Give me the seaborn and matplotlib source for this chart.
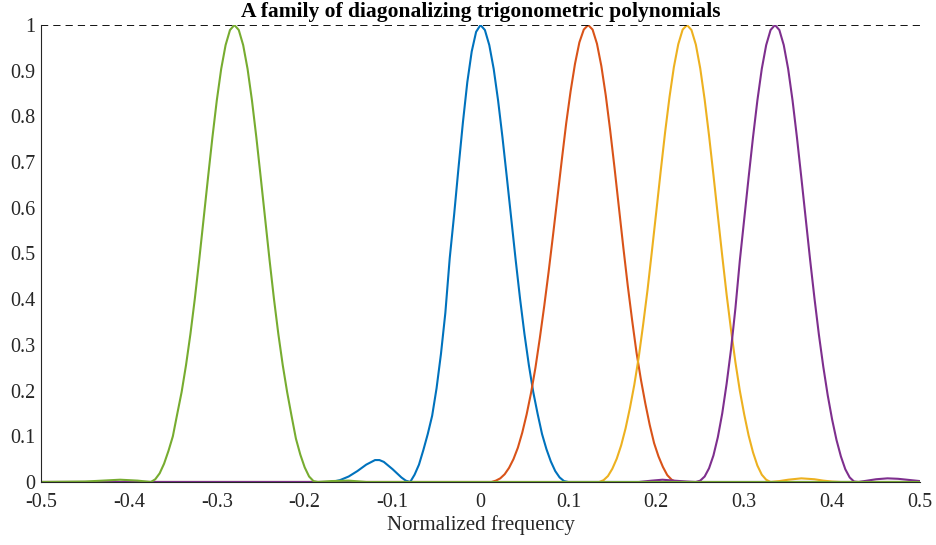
import matplotlib
matplotlib.use("Agg")
import matplotlib.pyplot as plt
import seaborn as sns
import pandas as pd

# ---- data ----
green_x = [-0.5, -0.45, -0.43, -0.41, -0.39, -0.375, -0.37, -0.365, -0.36, -0.355, -0.35, -0.345,
           -0.34, -0.335, -0.33, -0.325, -0.32, -0.315, -0.31, -0.305, -0.3, -0.295, -0.29, -0.285,
           -0.28, -0.275, -0.27, -0.265, -0.26, -0.255, -0.25, -0.245, -0.24, -0.235, -0.23, -0.225,
           -0.22, -0.215, -0.21, -0.205, -0.2, -0.195, -0.19, -0.185, -0.17, -0.15, -0.13, 0.5]
green_y = [0, 0.001, 0.003, 0.005, 0.003, 0.0, 0.006, 0.019, 0.040, 0.068, 0.100, 0.149,
           0.197, 0.256, 0.324, 0.401, 0.486, 0.576, 0.666, 0.754, 0.835, 0.904, 0.956, 0.989,
           1.0, 0.989, 0.956, 0.904, 0.835, 0.754, 0.666, 0.576, 0.486, 0.401, 0.324, 0.256,
           0.197, 0.145, 0.095, 0.060, 0.032, 0.012, 0.002, 0.0, 0.002, 0.003, 0.0, 0]

blue_x = [-0.5, -0.17, -0.16, -0.15, -0.14, -0.13, -0.12, -0.115, -0.11, -0.1, -0.09, -0.085, -0.08,
          -0.075, -0.07, -0.065, -0.06, -0.055, -0.05, -0.045, -0.04, -0.035, -0.03, -0.025, -0.02,
          -0.015, -0.01, -0.005, 0.0, 0.005, 0.01, 0.015, 0.02, 0.025, 0.03, 0.035, 0.04, 0.045,
          0.05, 0.055, 0.06, 0.065, 0.07, 0.075, 0.08, 0.085, 0.09, 0.095, 0.1, 0.5]
blue_y = [0, 0.0, 0.004, 0.012, 0.024, 0.038, 0.048, 0.048, 0.044, 0.028, 0.010, 0.003, 0.0,
          0.016, 0.038, 0.07, 0.105, 0.145, 0.205, 0.28, 0.37, 0.49, 0.585, 0.688, 0.787,
          0.875, 0.942, 0.985, 1.0, 0.989, 0.956, 0.904, 0.835, 0.754, 0.666, 0.576, 0.486, 0.401,
          0.324, 0.256, 0.197, 0.149, 0.105, 0.072, 0.045, 0.024, 0.010, 0.002, 0.0, 0]

orange_x = [-0.5, 0.0125, 0.0175, 0.0225, 0.0275, 0.0325, 0.0375, 0.0425, 0.0475, 0.0525, 0.0575,
            0.0625, 0.0675, 0.0725, 0.0775, 0.0825, 0.0875, 0.0925, 0.0975, 0.1025, 0.1075, 0.1125,
            0.1175, 0.1225, 0.1275, 0.1325, 0.1375, 0.1425, 0.1475, 0.1525, 0.1575, 0.1625, 0.1675,
            0.1725, 0.1775, 0.1825, 0.1875, 0.1925, 0.1975, 0.2025, 0.2075, 0.2125, 0.2175, 0.2225, 0.5]
orange_y = [0, 0.000, 0.003, 0.008, 0.017, 0.031, 0.050, 0.075, 0.108, 0.148, 0.195,
            0.250, 0.315, 0.385, 0.460, 0.540, 0.622, 0.705, 0.785, 0.855, 0.915, 0.962,
            0.990, 1.0, 0.990, 0.959, 0.91, 0.846, 0.77, 0.687, 0.600, 0.513, 0.43,
            0.354, 0.283, 0.224, 0.172, 0.125, 0.085, 0.056, 0.033, 0.015, 0.005, 0.000, 0]

yellow_x = [-0.5, 0.135, 0.14, 0.145, 0.15, 0.155, 0.16, 0.165, 0.17, 0.175, 0.18, 0.185, 0.19,
            0.195, 0.2, 0.205, 0.21, 0.215, 0.22, 0.225, 0.23, 0.235, 0.24, 0.245, 0.25, 0.255,
            0.26, 0.265, 0.27, 0.275, 0.28, 0.285, 0.29, 0.295, 0.3, 0.305, 0.31, 0.315, 0.32,
            0.325, 0.33, 0.34, 0.35, 0.365, 0.38, 0.39, 0.4, 0.41, 0.5]
yellow_y = [0, 0.0, 0.004, 0.013, 0.029, 0.051, 0.080, 0.117, 0.162, 0.213, 0.273, 0.344, 0.420,
            0.505, 0.592, 0.680, 0.765, 0.842, 0.908, 0.958, 0.990, 1.0, 0.989, 0.957, 0.905, 0.837,
            0.758, 0.672, 0.583, 0.495, 0.410, 0.333, 0.262, 0.200, 0.148, 0.102, 0.065, 0.036, 0.016,
            0.005, 0.000, 0.002, 0.005, 0.008, 0.006, 0.003, 0.001, 0.0, 0]

purple_x = [-0.5, 0.18, 0.195, 0.207, 0.22, 0.235, 0.245, 0.25, 0.255, 0.26, 0.265, 0.27, 0.275,
            0.28, 0.285, 0.29, 0.295, 0.3, 0.305, 0.31, 0.315, 0.32, 0.325, 0.33, 0.335, 0.34,
            0.345, 0.35, 0.355, 0.36, 0.365, 0.37, 0.375, 0.38, 0.385, 0.39, 0.395, 0.4, 0.405,
            0.41, 0.415, 0.42, 0.425, 0.43, 0.44, 0.45, 0.463, 0.475, 0.49, 0.5]
purple_y = [0, 0.0, 0.003, 0.005, 0.003, 0.001, 0.0, 0.003, 0.012, 0.030, 0.058, 0.098, 0.15,
            0.215, 0.29, 0.38, 0.484, 0.575, 0.666, 0.754, 0.835, 0.904, 0.956, 0.989, 1.0, 0.989,
            0.956, 0.904, 0.835, 0.754, 0.666, 0.576, 0.486, 0.401, 0.322, 0.252, 0.19, 0.137, 0.092,
            0.056, 0.028, 0.010, 0.001, 0.0, 0.003, 0.006, 0.008, 0.007, 0.004, 0.002]

x_ticks = [-0.5, -0.4, -0.3, -0.2, -0.1, 0, 0.1, 0.2, 0.3, 0.4, 0.5]
x_tick_labels = ["-0.5", "-0.4", "-0.3", "-0.2", "-0.1", "0", "0.1", "0.2", "0.3", "0.4", "0.5"]
y_ticks = [0, 0.1, 0.2, 0.3, 0.4, 0.5, 0.6, 0.7, 0.8, 0.9, 1]
y_tick_labels = ["0", "0.1", "0.2", "0.3", "0.4", "0.5", "0.6", "0.7", "0.8", "0.9", "1"]

title = "A family of diagonalizing trigonometric polynomials"
xlabel = "Normalized frequency"

# MATLAB default order: blue, orange, yellow, purple, green
series = [
    (blue_x, blue_y, "#0072BD"),
    (orange_x, orange_y, "#D95319"),
    (yellow_x, yellow_y, "#EDB120"),
    (purple_x, purple_y, "#7E2F8E"),
    (green_x, green_y, "#77AC30"),
]

sns.set_theme(style="white")
plt.rcParams["font.family"] = ["Liberation Serif", "DejaVu Serif"]
plt.rcParams["axes.unicode_minus"] = False

fig = plt.figure(figsize=(9.36, 5.45), dpi=100)
ax = fig.add_axes([41 / 936, 1 - 482 / 545, (920 - 41) / 936, (482 - 25) / 545])

for xs, ys, col in series:
    df = pd.DataFrame({"x": xs, "y": ys})
    sns.lineplot(data=df, x="x", y="y", color=col, linewidth=1.5, ax=ax,
                 estimator=None, sort=False)

ax.axhline(1, color="black", linestyle=(0, (4, 2.8)), linewidth=1.3)

ax.set_xlim(-0.5, 0.5)
ax.set_ylim(0, 1)
ax.set_xticks(x_ticks)
ax.set_xticklabels(x_tick_labels)
ax.set_yticks(y_ticks)
ax.set_yticklabels(y_tick_labels)
ax.tick_params(axis="both", direction="in", length=6, width=0.8, colors="#262626",
               labelsize=14.5)
ax.tick_params(axis="x", pad=8)
ax.tick_params(axis="y", pad=4)
for side in ["top", "right"]:
    ax.spines[side].set_visible(False)
for side in ["left", "bottom"]:
    ax.spines[side].set_color("#262626")
    ax.spines[side].set_linewidth(0.8)

ax.set_xlabel(xlabel, fontsize=15, color="#262626", labelpad=2)
ax.set_ylabel("")
ax.set_title(title, fontsize=15.5, fontweight="bold", color="black", pad=6)

fig.savefig("out.png", dpi=100)
